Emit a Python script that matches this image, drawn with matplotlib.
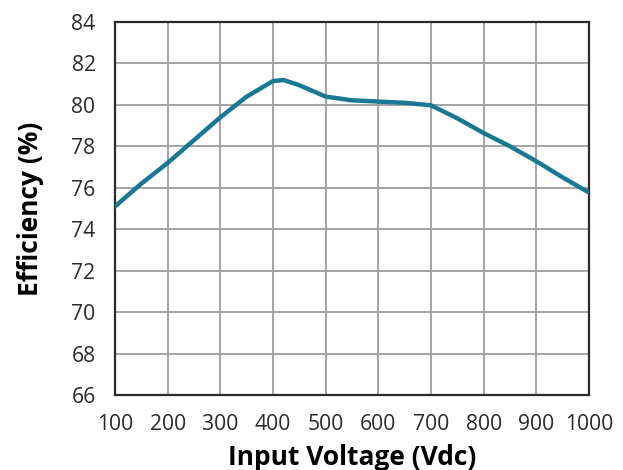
import matplotlib.pyplot as plt

# efficiency vs input voltage
voltage = [100, 150, 200, 250, 300, 350, 400, 420, 450, 500, 550, 600, 650, 700,
           750, 800, 850, 900, 950, 1000]
efficiency = [75.1, 76.2, 77.2, 78.3, 79.4, 80.4, 81.15, 81.2, 80.95, 80.4, 80.22,
              80.16, 80.1, 79.98, 79.35, 78.64, 78.0, 77.28, 76.5, 75.77]

x_ticks = list(range(100, 1001, 100))
y_ticks = list(range(66, 85, 2))

plt.rcParams["font.family"] = ["Open Sans", "DejaVu Sans"]

fig = plt.figure(figsize=(6.23, 4.70), dpi=100)
ax = fig.add_axes([115 / 623, 1 - 395 / 470, 474 / 623, 373 / 470])

ax.plot(voltage, efficiency, color="#1b7895", linewidth=3.2, zorder=3)

ax.set_xlim(100, 1000)
ax.set_ylim(66, 84)
ax.set_xticks(x_ticks)
ax.set_yticks(y_ticks)
ax.grid(True, color="#a3a3a3", linewidth=1.4)
ax.set_axisbelow(True)
ax.tick_params(length=0, labelsize=15.2, colors="#2a2a2a")
ax.tick_params(axis="x", pad=14)
ax.tick_params(axis="y", pad=14)
for s in ax.spines.values():
    s.set_color("#2a2a2a")
    s.set_linewidth(1.6)

ax.set_xlabel("Input Voltage (Vdc)", fontsize=19, fontweight="bold", labelpad=6)
ax.set_ylabel("Efficiency (%)", fontsize=19, fontweight="bold", labelpad=20)

fig.savefig("out.png", dpi=100)
